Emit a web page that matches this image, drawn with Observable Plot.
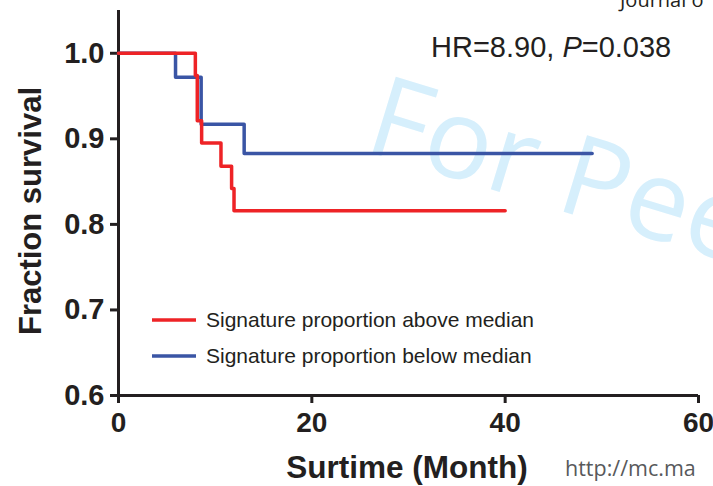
<!DOCTYPE html>
<html>
<head>
<meta charset="utf-8">
<script src="https://cdn.jsdelivr.net/npm/d3@7"></script>
<script src="https://cdn.jsdelivr.net/npm/@observablehq/plot@0.6"></script>
<style>
  html, body { margin: 0; padding: 0; background: #fff; overflow: hidden; }
  svg { overflow: visible; }
</style>
</head>
<body>
<div id="chart"></div>
<script>
// Kaplan–Meier step curves
const aboveTime = [0, 7.95, 8.15, 8.6, 10.6, 11.7, 11.95, 40];
const aboveSurv = [1.0, 0.974, 0.921, 0.895, 0.868, 0.842, 0.816, 0.816];
const belowTime = [0, 5.9, 8.55, 13.0, 49.0];
const belowSurv = [1.0, 0.972, 0.917, 0.883, 0.883];

const seriesNames = ["Signature proportion above median", "Signature proportion below median"];
const seriesColors = ["#ee2326", "#3a55a5"];
const xTicks = [0, 20, 40, 60];
const yTicks = [0.6, 0.7, 0.8, 0.9, 1.0];
const xLabel = "Surtime (Month)";
const yLabel = "Fraction survival";
const statText = ["HR=8.90, ", "P", "=0.038"];

const above = aboveTime.map((t, i) => ({t, s: aboveSurv[i], g: seriesNames[0]}));
const below = belowTime.map((t, i) => ({t, s: belowSurv[i], g: seriesNames[1]}));

const axisColor = "#231f20";
const W = 713, H = 486;

const chart = Plot.plot({
  width: W,
  height: H,
  marginLeft: 118,
  marginRight: 15,
  marginTop: 10,
  marginBottom: 91,
  style: {fontFamily: "'Liberation Sans', Arial, sans-serif", background: "#fff", color: axisColor},
  x: {domain: [0, 60]},
  y: {domain: [0.6, 1.05]},
  marks: [
    Plot.axisX({ticks: xTicks, tickSize: 8, tickPadding: 9, strokeWidth: 3, fontSize: 28, fontWeight: "bold", label: null, tickFormat: d3.format("d"), stroke: axisColor, fill: axisColor}),
    Plot.axisY({ticks: yTicks, tickSize: 8, tickPadding: 6, strokeWidth: 3, fontSize: 29, fontWeight: "bold", label: null, tickFormat: d3.format(".1f"), stroke: axisColor, fill: axisColor}),
    Plot.ruleY([0.6], {stroke: axisColor, strokeWidth: 3}),
    Plot.ruleX([0], {stroke: axisColor, strokeWidth: 3}),
    Plot.line(below, {x: "t", y: "s", curve: "step-after", stroke: seriesColors[1], strokeWidth: 3.5}),
    Plot.line(above, {x: "t", y: "s", curve: "step-after", stroke: seriesColors[0], strokeWidth: 3.5})
  ]
});

document.getElementById("chart").appendChild(chart);

const svg = d3.select(chart);

// watermark (behind everything)
svg.insert("text", ":first-child")
  .attr("transform", "translate(362,150) rotate(17)")
  .attr("text-anchor", "start")
  .attr("font-family", "'Open Sans', sans-serif")
  .attr("font-size", 112)
  .attr("fill", "#d6effc")
  .text("For Pee");

// journal header (cut off at the top)
svg.append("text")
  .attr("x", 620).attr("y", 7)
  .attr("text-anchor", "start")
  .attr("font-family", "'Open Sans', sans-serif")
  .attr("font-size", 20)
  .attr("fill", axisColor)
  .text("Journal o");

// footer url
svg.append("text")
  .attr("x", 565).attr("y", 476)
  .attr("text-anchor", "start")
  .attr("font-family", "'Open Sans', sans-serif")
  .attr("font-size", 21.5)
  .attr("fill", "#58595b")
  .text("http://mc.ma");

// axis labels
svg.append("text")
  .attr("x", 407).attr("y", 478)
  .attr("text-anchor", "middle")
  .attr("font-family", "'Liberation Sans', Arial, sans-serif")
  .attr("font-weight", "bold")
  .attr("font-size", 31.5)
  .attr("fill", axisColor)
  .text(xLabel);

svg.append("text")
  .attr("transform", "translate(41,211) rotate(-90)")
  .attr("text-anchor", "middle")
  .attr("font-family", "'Liberation Sans', Arial, sans-serif")
  .attr("font-weight", "bold")
  .attr("font-size", 31)
  .attr("fill", axisColor)
  .text(yLabel);

// HR annotation
const hr = svg.append("text")
  .attr("x", 431).attr("y", 57)
  .attr("text-anchor", "start")
  .attr("font-family", "'Liberation Sans', Arial, sans-serif")
  .attr("font-size", 29)
  .attr("fill", axisColor);
hr.append("tspan").text(statText[0]);
hr.append("tspan").attr("font-style", "italic").text(statText[1]);
hr.append("tspan").text(statText[2]);

// legend
const legY = [320, 356];
seriesNames.forEach((name, i) => {
  svg.append("line")
    .attr("x1", 152).attr("x2", 196)
    .attr("y1", legY[i]).attr("y2", legY[i])
    .attr("stroke", seriesColors[i]).attr("stroke-width", 3.5);
  svg.append("text")
    .attr("x", 206).attr("y", legY[i])
    .attr("dy", "0.35em")
    .attr("text-anchor", "start")
    .attr("font-family", "'Liberation Sans', Arial, sans-serif")
    .attr("font-size", 21)
    .attr("fill", axisColor)
    .text(name);
});
</script>
</body>
</html>
